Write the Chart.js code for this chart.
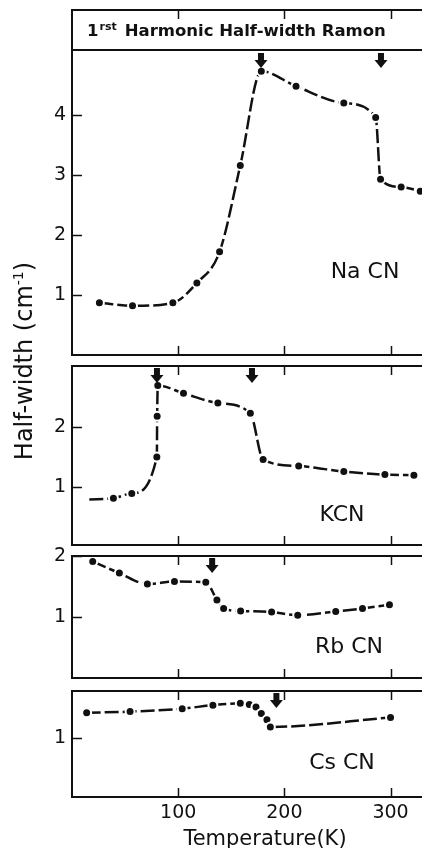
<!DOCTYPE html>
<html>
<head>
<meta charset="utf-8">
<script src="https://cdn.jsdelivr.net/npm/chart.js@4.4.0/dist/chart.umd.min.js"></script>
<style>
  html, body { margin: 0; padding: 0; background: #fff; overflow: hidden; }
  body { width: 422px; height: 848px; position: relative; font-family: "DejaVu Sans", sans-serif; color: #111; }
  canvas { position: absolute; left: 0; }
  .lbl { position: absolute; font-size: 22px; line-height: 1; transform: translate(-50%, -50%); white-space: nowrap; }
  #xtitle { font-size: 21px; }
  #ytitle { position: absolute; left: -126px; top: 347px; width: 300px; text-align: center; font-size: 24px; line-height: 28px; transform: rotate(-90deg); white-space: nowrap; }
  #ytitle sup { font-size: 14px; vertical-align: 9px; line-height: 0; }
</style>
</head>
<body>
<canvas id="na" width="433" height="349" style="top:8px"></canvas>
<canvas id="k" width="433" height="183" style="top:364px"></canvas>
<canvas id="rb" width="433" height="140" style="top:540px"></canvas>
<canvas id="cs" width="433" height="159" style="top:689px"></canvas>

<div id="ytitle">Half-width (cm<sup>-1</sup>)</div>
<div id="xtitle" class="lbl" style="left:265px; top:838px">Temperature(K)</div>
<div class="lbl" style="left:365px; top:271px">Na CN</div>
<div class="lbl" style="left:342px; top:514px">KCN</div>
<div class="lbl" style="left:349px; top:646px">Rb CN</div>
<div class="lbl" style="left:342px; top:762px">Cs CN</div>

<script>
// temperatures (K) and half-widths (cm-1)
const naTemp  = [25.8, 57, 95, 117.6, 139, 158.5, 178.3, 211, 256, 286, 290.6, 310, 328];
const naWidth = [0.87, 0.82, 0.87, 1.2, 1.72, 3.16, 4.73, 4.48, 4.2, 3.96, 2.93, 2.8, 2.73];

const kTemp  = [16.3, 39, 56.3, 79.9, 80.2, 80.8, 105, 137.4, 168, 180, 213.5, 256, 294.7, 322];
const kWidth = [0.80, 0.82, 0.90, 1.50, 2.17, 2.68, 2.55, 2.39, 2.22, 1.46, 1.35, 1.26, 1.21, 1.20];

const rbTemp  = [19.5, 44.6, 71, 96.5, 126, 136.5, 142.8, 158.8, 188, 212.6, 248.4, 273.6, 299];
const rbWidth = [1.91, 1.72, 1.54, 1.58, 1.57, 1.28, 1.14, 1.10, 1.08, 1.03, 1.09, 1.14, 1.20];

const csTemp  = [13.8, 54.7, 103.8, 132.7, 158.5, 167, 173.3, 178.3, 183.6, 186.8, 300];
const csWidth = [1.43, 1.45, 1.50, 1.56, 1.59, 1.57, 1.53, 1.42, 1.31, 1.19, 1.35];

// transition arrows (K)
const naArrows = [178, 291];
const kArrows  = [80, 169.5];
const rbArrows = [132];
const csArrows = [192.5];

// tick labels
const xTicks   = [100, 200, 300];
const naYTicks = [1, 2, 3, 4];
const kYTicks  = [1, 2];
const rbYTicks = [1, 2];
const csYTicks = [1];

const ink = '#111';
const font = 'DejaVu Sans';

// frame, inward ticks, arrows (and the title band for NaCN)
function frameFor(cfg) {
    return {
        id: 'frame',
        afterDraw(chart) {
            const ctx = chart.ctx;
            const a = chart.chartArea;
            const x = chart.scales.x, y = chart.scales.y;
            ctx.save();
            ctx.strokeStyle = ink;
            ctx.lineWidth = 2;
            ctx.strokeRect(a.left, a.top, a.right - a.left, a.bottom - a.top);

            ctx.lineWidth = 1.5;
            ctx.beginPath();
            xTicks.forEach(v => {
                const px = Math.round(x.getPixelForValue(v)) + 0.5;
                ctx.moveTo(px, a.top); ctx.lineTo(px, a.top + 9);
                ctx.moveTo(px, a.bottom); ctx.lineTo(px, a.bottom - 9);
            });
            cfg.yTicks.forEach(v => {
                const py = Math.round(y.getPixelForValue(v)) + 0.5;
                ctx.moveTo(a.left, py); ctx.lineTo(a.left + 10, py);
            });
            ctx.stroke();

            let top = a.top;
            if (cfg.divider) {
                const py = Math.round(y.getPixelForValue(cfg.divider));
                ctx.lineWidth = 2;
                ctx.beginPath(); ctx.moveTo(a.left, py); ctx.lineTo(a.right, py); ctx.stroke();
                top = py + 1;

                // "1rst Harmonic Half-width Ramon"
                ctx.fillStyle = ink;
                ctx.textBaseline = 'alphabetic';
                const base = (a.top + py) / 2 + 6;
                let tx = a.left + 15;
                ctx.font = 'bold 16.5px "' + font + '"';
                ctx.fillText('1', tx, base);
                tx += ctx.measureText('1').width + 1;
                ctx.font = 'bold 11px "' + font + '"';
                ctx.fillText('rst', tx, base - 6);
                tx += ctx.measureText('rst').width + 8;
                ctx.font = 'bold 16.5px "' + font + '"';
                ctx.fillText(cfg.title, tx, base);
            }

            ctx.fillStyle = ink;
            cfg.arrows.forEach(t => {
                const px = x.getPixelForValue(t);
                const y0 = top + 2;
                ctx.fillRect(px - 3, y0, 6, 8);
                ctx.beginPath();
                ctx.moveTo(px - 6.5, y0 + 7);
                ctx.lineTo(px + 6.5, y0 + 7);
                ctx.lineTo(px, y0 + 15);
                ctx.closePath();
                ctx.fill();
            });
            ctx.restore();
        }
    };
}

function makeChart(id, temps, widths, cfg) {
    const ctx = document.getElementById(id).getContext('2d');
    const bottom = !!cfg.showX;
    return new Chart(ctx, {
        type: 'line',
        data: {
            datasets: [{
                data: temps.map((t, i) => ({ x: t, y: widths[i] })),
                borderColor: ink,
                borderWidth: 2.5,
                borderDash: [14, 4],
                cubicInterpolationMode: 'monotone',
                pointRadius: c => (cfg.noFirstDot && c.dataIndex === 0) ? 0 : 4.5,
                pointBackgroundColor: ink,
                pointBorderColor: '#fff',
                pointBorderWidth: 2,
                fill: false
            }]
        },
        options: {
            responsive: false,
            animation: false,
            devicePixelRatio: 1,
            layout: {
                autoPadding: false,
                padding: { top: cfg.padTop || 2, bottom: bottom ? 0 : 2, left: 0, right: 0 }
            },
            plugins: { legend: { display: false }, tooltip: { enabled: false } },
            scales: {
                x: {
                    type: 'linear',
                    min: 0,
                    max: 340,
                    display: bottom,
                    afterBuildTicks: s => { s.ticks = xTicks.map(v => ({ value: v })); },
                    afterFit: s => { s.height = bottom ? 51 : 0; s.paddingLeft = 0; s.paddingRight = 0; },
                    grid: { display: false, drawTicks: false },
                    border: { display: false },
                    ticks: { padding: 5, color: ink, font: { family: font, size: 19 } }
                },
                y: {
                    min: cfg.yMin,
                    max: cfg.yMax,
                    afterBuildTicks: s => { s.ticks = cfg.yTicks.map(v => ({ value: v })); },
                    afterFit: s => { s.width = 72; s.paddingTop = 0; s.paddingBottom = 0; },
                    grid: { display: false, drawTicks: false },
                    border: { display: false },
                    ticks: { padding: 6, color: ink, font: { family: font, size: 19 } }
                }
            }
        },
        plugins: [frameFor(cfg)]
    });
}

makeChart('na', naTemp, naWidth, {
    yMin: 0, yMax: 5.75, yTicks: naYTicks, arrows: naArrows,
    divider: 5.08, title: 'Harmonic Half-width Ramon'
});
makeChart('k', kTemp, kWidth, {
    yMin: 0.05, yMax: 3.0, yTicks: kYTicks, arrows: kArrows, noFirstDot: true
});
makeChart('rb', rbTemp, rbWidth, {
    yMin: 0, yMax: 2.0, yTicks: rbYTicks, arrows: rbArrows, padTop: 16
});
makeChart('cs', csTemp, csWidth, {
    yMin: 0, yMax: 1.8, yTicks: csYTicks, arrows: csArrows, showX: true
});
</script>
</body>
</html>
